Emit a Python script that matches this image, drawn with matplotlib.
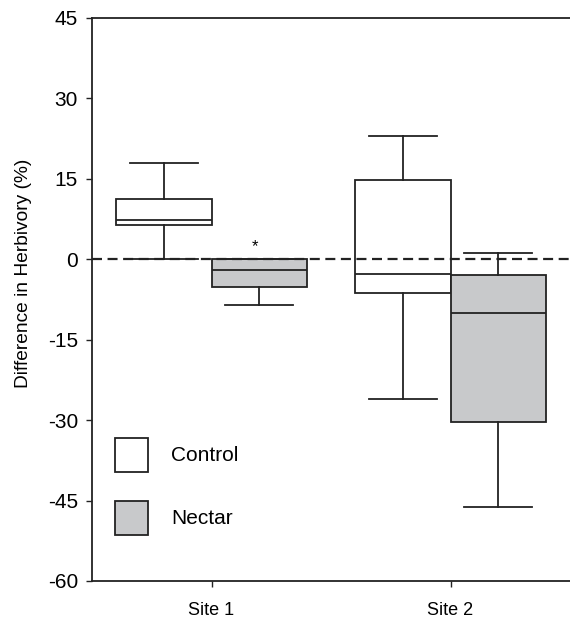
import matplotlib.pyplot as plt
from matplotlib.patches import Rectangle

plt.rcParams['font.family'] = ['Liberation Sans', 'DejaVu Sans']
plt.rcParams['axes.unicode_minus'] = False

sites = ["Site 1", "Site 2"]
groups = ["Control", "Nectar"]
# five-number summaries: low whisker, q1, median, q3, high whisker
control = [[0.0, 6.4, 7.4, 11.2, 18.0], [-26.1, -6.2, -2.7, 14.7, 22.9]]
nectar = [[-8.5, -5.2, -2.0, 0.0, 0.0], [-46.2, -30.4, -10.1, -3.0, 1.2]]
star_site = 0
star_y = 2.3

gray = '#c8c9cb'
ink = '#222222'

fig = plt.figure(figsize=(5.7, 6.19), dpi=100)
ax = fig.add_axes([92/570, 38/619, 478/570, 563/619])

def stats(vals):
    lo, q1, med, q3, hi = vals
    return dict(whislo=lo, q1=q1, med=med, q3=q3, whishi=hi, fliers=[])

for k, (grp, col) in enumerate([(control, 'white'), (nectar, gray)]):
    pos = [i + 1 - 0.2 + 0.4 * k for i in range(len(sites))]
    ax.bxp([stats(v) for v in grp], positions=pos, widths=0.4, capwidths=0.285,
           patch_artist=True, showfliers=False,
           boxprops=dict(facecolor=col, edgecolor=ink, linewidth=1.3),
           medianprops=dict(color=ink, linewidth=1.3),
           whiskerprops=dict(color=ink, linewidth=1.3),
           capprops=dict(color=ink, linewidth=1.3))

ax.axhline(0, color=ink, linestyle=(0, (4.5, 2.5)), linewidth=1.6, zorder=5)
ax.text(star_site + 1.18, star_y, '*', ha='center', va='center', fontsize=12)

ax.set_xlim(0.5, 2.5)
ax.set_ylim(-60, 45)
ax.set_yticks(range(-60, 46, 15))
ax.set_xticks([1, 2])
ax.set_xticklabels(sites)
ax.tick_params(length=4, width=1, color=ink)
ax.tick_params(axis='y', labelsize=15, pad=6)
ax.tick_params(axis='x', labelsize=13, pad=11)
ax.set_ylabel('Difference in Herbivory (%)', fontsize=13.8)
ax.yaxis.set_label_coords(-0.125, 0.547)
ax.spines['right'].set_visible(False)
for s in ['left', 'top', 'bottom']:
    ax.spines[s].set_linewidth(1.3)
    ax.spines[s].set_color(ink)

# legend boxes
for name, col, yb, yt in [(groups[0], 'white', 0.1936, 0.2238), (groups[1], gray, 0.0817, 0.1119)]:
    ax.add_patch(Rectangle((0.0481, yb), 0.069, 0.0604, transform=ax.transAxes,
                           facecolor=col, edgecolor=ink, linewidth=1.3, clip_on=False))
    ax.text(0.165, yt, name, transform=ax.transAxes, fontsize=15, va='center', ha='left')

fig.savefig('out.png', dpi=100)
